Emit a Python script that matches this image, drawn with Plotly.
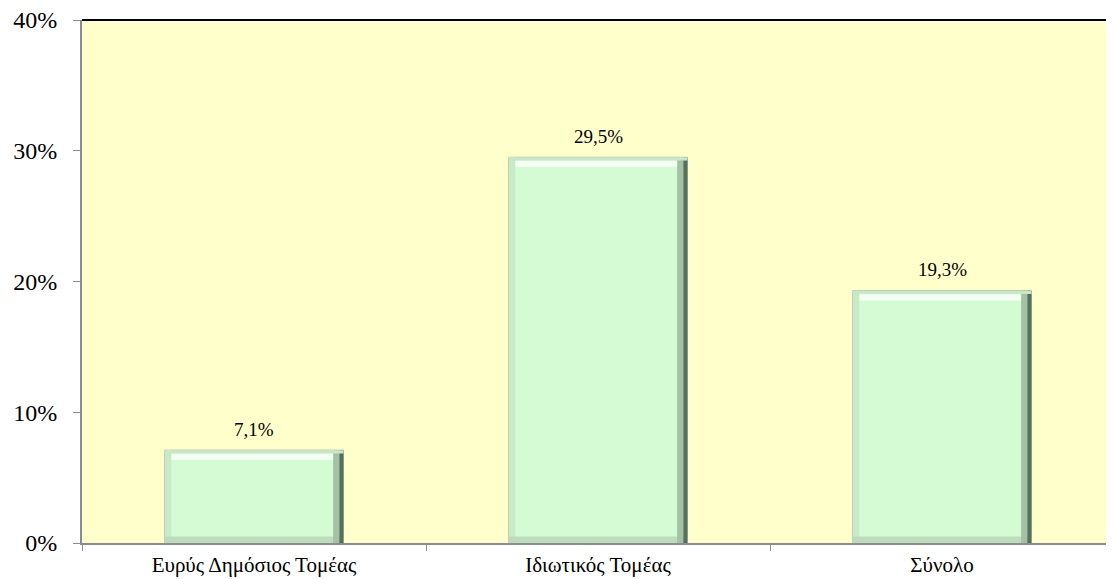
import plotly.graph_objects as go

categories = ["Ευρύς Δημόσιος Τομέας", "Ιδιωτικός Τομέας", "Σύνολο"]
values = [7.1, 29.5, 19.3]
labels = ["7,1%", "29,5%", "19,3%"]
y_ticks = [0, 10, 20, 30, 40]
y_tick_text = ["0%", "10%", "20%", "30%", "40%"]

FONT = "Liberation Serif, Times New Roman, serif"
HALF = 0.26

fig = go.Figure()
fig.add_trace(go.Bar(
    x=categories, y=values,
    marker=dict(color="#D5FBD5", line=dict(color="#A5C0A5", width=1)),
    width=2 * HALF,
))

# bevel decoration derived from bar values
for i, v in enumerate(values):
    fig.add_shape(type="rect", xref="x", yref="y", x0=i - HALF, x1=i - HALF + 0.02, y0=0, y1=v,
                  fillcolor="#C9EAC9", line=dict(width=0), layer="above")
    fig.add_shape(type="rect", xref="x", yref="y", x0=i - HALF, x1=i + HALF, y0=0, y1=0.5,
                  fillcolor="#BCDCBC", line=dict(width=0), layer="above")
    fig.add_shape(type="rect", xref="x", yref="y", x0=i + HALF - 0.03, x1=i + HALF - 0.012, y0=0, y1=v,
                  fillcolor="#A3C2A3", line=dict(width=0), layer="above")
    fig.add_shape(type="rect", xref="x", yref="y", x0=i + HALF - 0.012, x1=i + HALF, y0=0, y1=v,
                  fillcolor="#58705A", line=dict(width=0), layer="above")
    fig.add_shape(type="rect", xref="x", yref="y", x0=i - HALF + 0.02, x1=i + HALF - 0.03,
                  y0=v - 0.75, y1=v - 0.25, fillcolor="#F6FFF6", opacity=0.9,
                  line=dict(width=0), layer="above")
    fig.add_shape(type="rect", xref="x", yref="y", x0=i - HALF, x1=i + HALF,
                  y0=v - 0.25, y1=v, fillcolor="#C8E6C8", line=dict(width=0), layer="above")
    fig.add_annotation(x=categories[i], y=v, text=labels[i], showarrow=False,
                       yshift=21, font=dict(family=FONT, size=19, color="black"))

fig.update_layout(
    width=1106, height=571,
    margin=dict(l=74, r=0, t=12, b=36),
    paper_bgcolor="white", plot_bgcolor="#FFFFCC",
    showlegend=False,
    font=dict(family=FONT, color="black"),
)
fig.update_xaxes(
    showline=True, linecolor="#8C8C8C", linewidth=2,
    ticks="outside", tickson="boundaries", ticklen=6, tickcolor="#8C8C8C", tickwidth=1,
    tickfont=dict(family=FONT, size=21), showgrid=False, automargin=False,
    ticklabelstandoff=2, ticklabeloverflow="allow",
)
fig.update_yaxes(
    range=[0, 40], tickvals=y_ticks, ticktext=y_tick_text,
    showline=True, linecolor="#8C8C8C", linewidth=2,
    ticks="outside", ticklen=7, tickcolor="#8C8C8C", tickwidth=1,
    tickfont=dict(family=FONT, size=24), showgrid=False, zeroline=False, automargin=False,
    ticklabelstandoff=11, ticklabeloverflow="allow",
)
fig.add_shape(type="line", xref="paper", yref="paper", x0=0, x1=1, y0=1, y1=1,
              line=dict(color="black", width=2))
fig.write_html("out.html")
